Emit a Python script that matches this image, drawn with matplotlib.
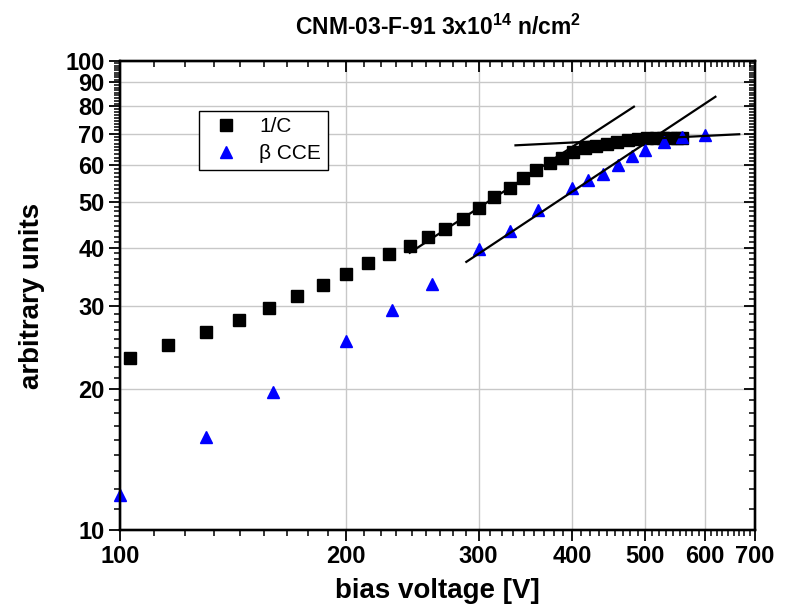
import numpy as np
import matplotlib
matplotlib.use('Agg')
import matplotlib.pyplot as plt
from matplotlib.ticker import FixedLocator, NullFormatter, FixedFormatter

plt.rcParams['font.family'] = ['Liberation Sans', 'DejaVu Sans']
plt.rcParams['mathtext.default'] = 'regular'

# 1/C (black squares)
v_c = [103, 116, 130, 144, 158, 172, 186, 200, 214, 228, 243, 257, 271, 286, 300,
       315, 330, 344, 358, 373, 387, 401, 416, 430, 445, 459, 474, 489, 503,
       517, 528, 540, 551, 560]
c_inv = [23.3, 24.8, 26.4, 28.0, 29.7, 31.5, 33.3, 35.1, 37.1, 38.8, 40.4, 42.1, 43.8, 46.0, 48.7,
         51.2, 53.5, 56.2, 58.6, 60.6, 62.2, 64.0, 65.2, 65.8, 66.5, 67.3, 67.8, 68.2, 68.4,
         68.5, 68.5, 68.5, 68.5, 68.5]

# beta CCE (blue triangles)
v_cce = [100, 130, 160, 200, 230, 260, 300, 330, 360, 400, 420, 440, 460, 480, 500, 530, 560, 600]
cce = [11.9, 15.8, 19.7, 25.3, 29.4, 33.5, 39.7, 43.4, 48.1, 53.7, 55.7, 57.3, 60.0, 62.6, 64.7,
       67.1, 68.8, 69.4]

# fitted lines (end points)
fit1_v, fit1_y = [243, 483], [39.0, 79.9]
fit2_v, fit2_y = [289, 620], [37.3, 83.9]
fit3_v, fit3_y = [336, 667], [66.1, 69.8]

x_major = [100, 200, 300, 400, 500, 600, 700]
y_major = [10, 20, 30, 40, 50, 60, 70, 80, 90, 100]


def minor_ticks(majors):
    out = []
    for a, b in zip(majors[:-1], majors[1:]):
        out += [a + k * (b - a) / 9.0 for k in range(1, 9)]
    return out


fig = plt.figure(figsize=(7.91, 6.10), dpi=100)
ax = fig.add_axes([120 / 791, 1 - 530 / 610, 635 / 791, 469 / 610])

ax.set_xscale('log')
ax.set_yscale('log')
ax.set_xlim(100, 700)
ax.set_ylim(10, 100)

ax.grid(True, which='major', color='#c8c8c8', lw=1.0, zorder=0)

ax.plot(v_c, c_inv, 's', color='black', ms=8, mec='black', label='1/C', zorder=3, clip_on=False)
ax.plot(v_cce, cce, '^', color='#0000ff', ms=9, mec='#0000ff', label='β CCE', zorder=3, clip_on=False)

for fv, fy in [(fit1_v, fit1_y), (fit2_v, fit2_y), (fit3_v, fit3_y)]:
    ax.plot(fv, fy, '-', color='black', lw=1.6, zorder=4)

ax.xaxis.set_major_locator(FixedLocator(x_major))
ax.xaxis.set_minor_locator(FixedLocator(minor_ticks(x_major)))
ax.yaxis.set_major_locator(FixedLocator(y_major))
ax.yaxis.set_minor_locator(FixedLocator(minor_ticks(y_major)))
ax.xaxis.set_major_formatter(FixedFormatter([str(v) for v in x_major]))
ax.yaxis.set_major_formatter(FixedFormatter([str(v) for v in y_major]))
ax.xaxis.set_minor_formatter(NullFormatter())
ax.yaxis.set_minor_formatter(NullFormatter())

ax.tick_params(which='major', direction='out', length=8, width=1.3, labelsize=17, pad=3)
ax.tick_params(which='minor', direction='out', length=4, width=1.1)
for lab in ax.get_xticklabels() + ax.get_yticklabels():
    lab.set_fontweight('bold')

leg = ax.legend(loc='upper left', bbox_to_anchor=(0.1244, 0.894), fontsize=15,
                frameon=True, fancybox=False, edgecolor='black', framealpha=1,
                handletextpad=0.6, borderpad=0.3, labelspacing=0.4, borderaxespad=0)
leg.get_frame().set_linewidth(1.0)

# top / right axes with inward ticks
axt = ax.twiny()
axt.set_xscale('log')
axt.set_xlim(100, 700)
axt.xaxis.set_major_locator(FixedLocator(x_major))
axt.xaxis.set_minor_locator(FixedLocator(minor_ticks(x_major)))
axt.xaxis.set_major_formatter(NullFormatter())
axt.xaxis.set_minor_formatter(NullFormatter())
axt.tick_params(which='major', direction='in', length=8, width=1.3)
axt.tick_params(which='minor', direction='in', length=4, width=1.1)

axr = ax.twinx()
axr.set_yscale('log')
axr.set_ylim(10, 100)
axr.yaxis.set_major_locator(FixedLocator(y_major))
axr.yaxis.set_minor_locator(FixedLocator(minor_ticks(y_major)))
axr.yaxis.set_major_formatter(NullFormatter())
axr.yaxis.set_minor_formatter(NullFormatter())
axr.tick_params(which='major', direction='in', length=8, width=1.3)
axr.tick_params(which='minor', direction='in', length=4, width=1.1)

for a in (ax, axt, axr):
    for s in a.spines.values():
        s.set_linewidth(1.6)

ax.set_xlabel('bias voltage [V]', fontsize=20, fontweight='bold', labelpad=7)
ax.set_ylabel('arbitrary units', fontsize=20, fontweight='bold', labelpad=15)
fig.text(0.5531, 0.955, 'CNM-03-F-91 3x10$^{14}$ n/cm$^{2}$', ha='center', va='center',
         fontsize=16.5, fontweight='bold')

fig.savefig('out.png', dpi=100)
